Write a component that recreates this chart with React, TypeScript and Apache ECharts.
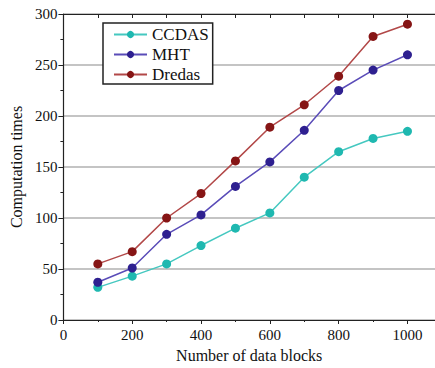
import React, { useEffect, useRef } from "react";
import * as echarts from "echarts";

const blocks = [100, 200, 300, 400, 500, 600, 700, 800, 900, 1000];
const ccdas = [32, 43, 55, 73, 90, 105, 140, 165, 178, 185];
const mht = [37, 51, 84, 103, 131, 155, 186, 225, 245, 260];
const dredas = [55, 67, 100, 124, 156, 189, 211, 239, 278, 290];

const FONT = "'Liberation Serif', 'Times New Roman', Times, serif";

function pairs(ys: number[]) {
  return blocks.map((x, i) => [x, ys[i]]);
}

export default function App() {
  const ref = useRef<HTMLDivElement>(null);
  useEffect(() => {
    if (!ref.current) return;
    const chart = echarts.init(ref.current, null, { renderer: "svg" });
    const mk = (name: string, ys: number[], mColor: string, lColor: string) => ({
      name,
      type: "line",
      data: pairs(ys),
      symbol: "circle",
      symbolSize: 9,
      itemStyle: { color: mColor },
      lineStyle: { color: lColor, width: 1.5 },
      z: 3,
    });
    chart.setOption({
      animation: false,
      backgroundColor: "#fff",
      textStyle: { fontFamily: FONT },
      grid: { left: 63, top: 14, right: 0, bottom: 46 },
      legend: {
        orient: "vertical",
        left: 103,
        top: 23,
        padding: [3, 4, 1, 10],
        itemGap: 3,
        itemWidth: 33,
        itemHeight: 9,
        borderColor: "#222",
        borderWidth: 1.5,
        backgroundColor: "#fff",
        textStyle: { fontFamily: FONT, fontSize: 17, color: "#111", lineHeight: 17 },
        data: ["CCDAS", "MHT", "Dredas"],
      },
      xAxis: [
        {
          type: "value",
          min: 0,
          max: 1080,
          interval: 200,
          position: "bottom",
          name: "Number of data blocks",
          nameLocation: "middle",
          nameGap: 27,
          nameTextStyle: { fontFamily: FONT, fontSize: 16, color: "#111" },
          axisLine: { show: true, lineStyle: { color: "#222", width: 1.2 } },
          axisTick: { show: true, inside: false, length: 4, lineStyle: { color: "#222" } },
          minorTick: { show: true, splitNumber: 2, length: 2, lineStyle: { color: "#222" } },
          splitLine: { show: false },
          axisLabel: {
            fontFamily: FONT,
            fontSize: 15,
            color: "#111",
            margin: 7,
            showMaxLabel: false,
            formatter: (v: number) => (v % 200 === 0 ? String(v) : ""),
          },
        },
        {
          type: "value",
          min: 0,
          max: 1080,
          interval: 100,
          position: "top",
          axisLine: { show: true, lineStyle: { color: "#222", width: 1.2 } },
          axisTick: { show: true, inside: true, length: 4, lineStyle: { color: "#222" } },
          axisLabel: { show: false },
          splitLine: { show: false },
        },
      ],
      yAxis: {
        type: "value",
        min: 0,
        max: 300,
        interval: 50,
        name: "Computation times",
        nameLocation: "middle",
        nameGap: 38,
        nameTextStyle: { fontFamily: FONT, fontSize: 16, color: "#111" },
        axisLine: { show: true, lineStyle: { color: "#222", width: 1.2 } },
        axisTick: { show: true, inside: false, length: 5, lineStyle: { color: "#222" } },
        minorTick: { show: true, splitNumber: 2, length: 3, lineStyle: { color: "#222" } },
        splitLine: { show: true, lineStyle: { color: "#b0b0b0", width: 1.5 } },
        axisLabel: { fontFamily: FONT, fontSize: 15, color: "#111", margin: 6 },
      },
      series: [
        mk("CCDAS", ccdas, "#1fb8b0", "#45c8c0"),
        mk("MHT", mht, "#2e2090", "#5a4cb8"),
        mk("Dredas", dredas, "#861515", "#b24848"),
      ],
    });
    return () => chart.dispose();
  }, []);
  return (
    <div
      ref={ref}
      style={{ position: "absolute", left: 0, top: 0, width: 435, height: 368 }}
    />
  );
}
